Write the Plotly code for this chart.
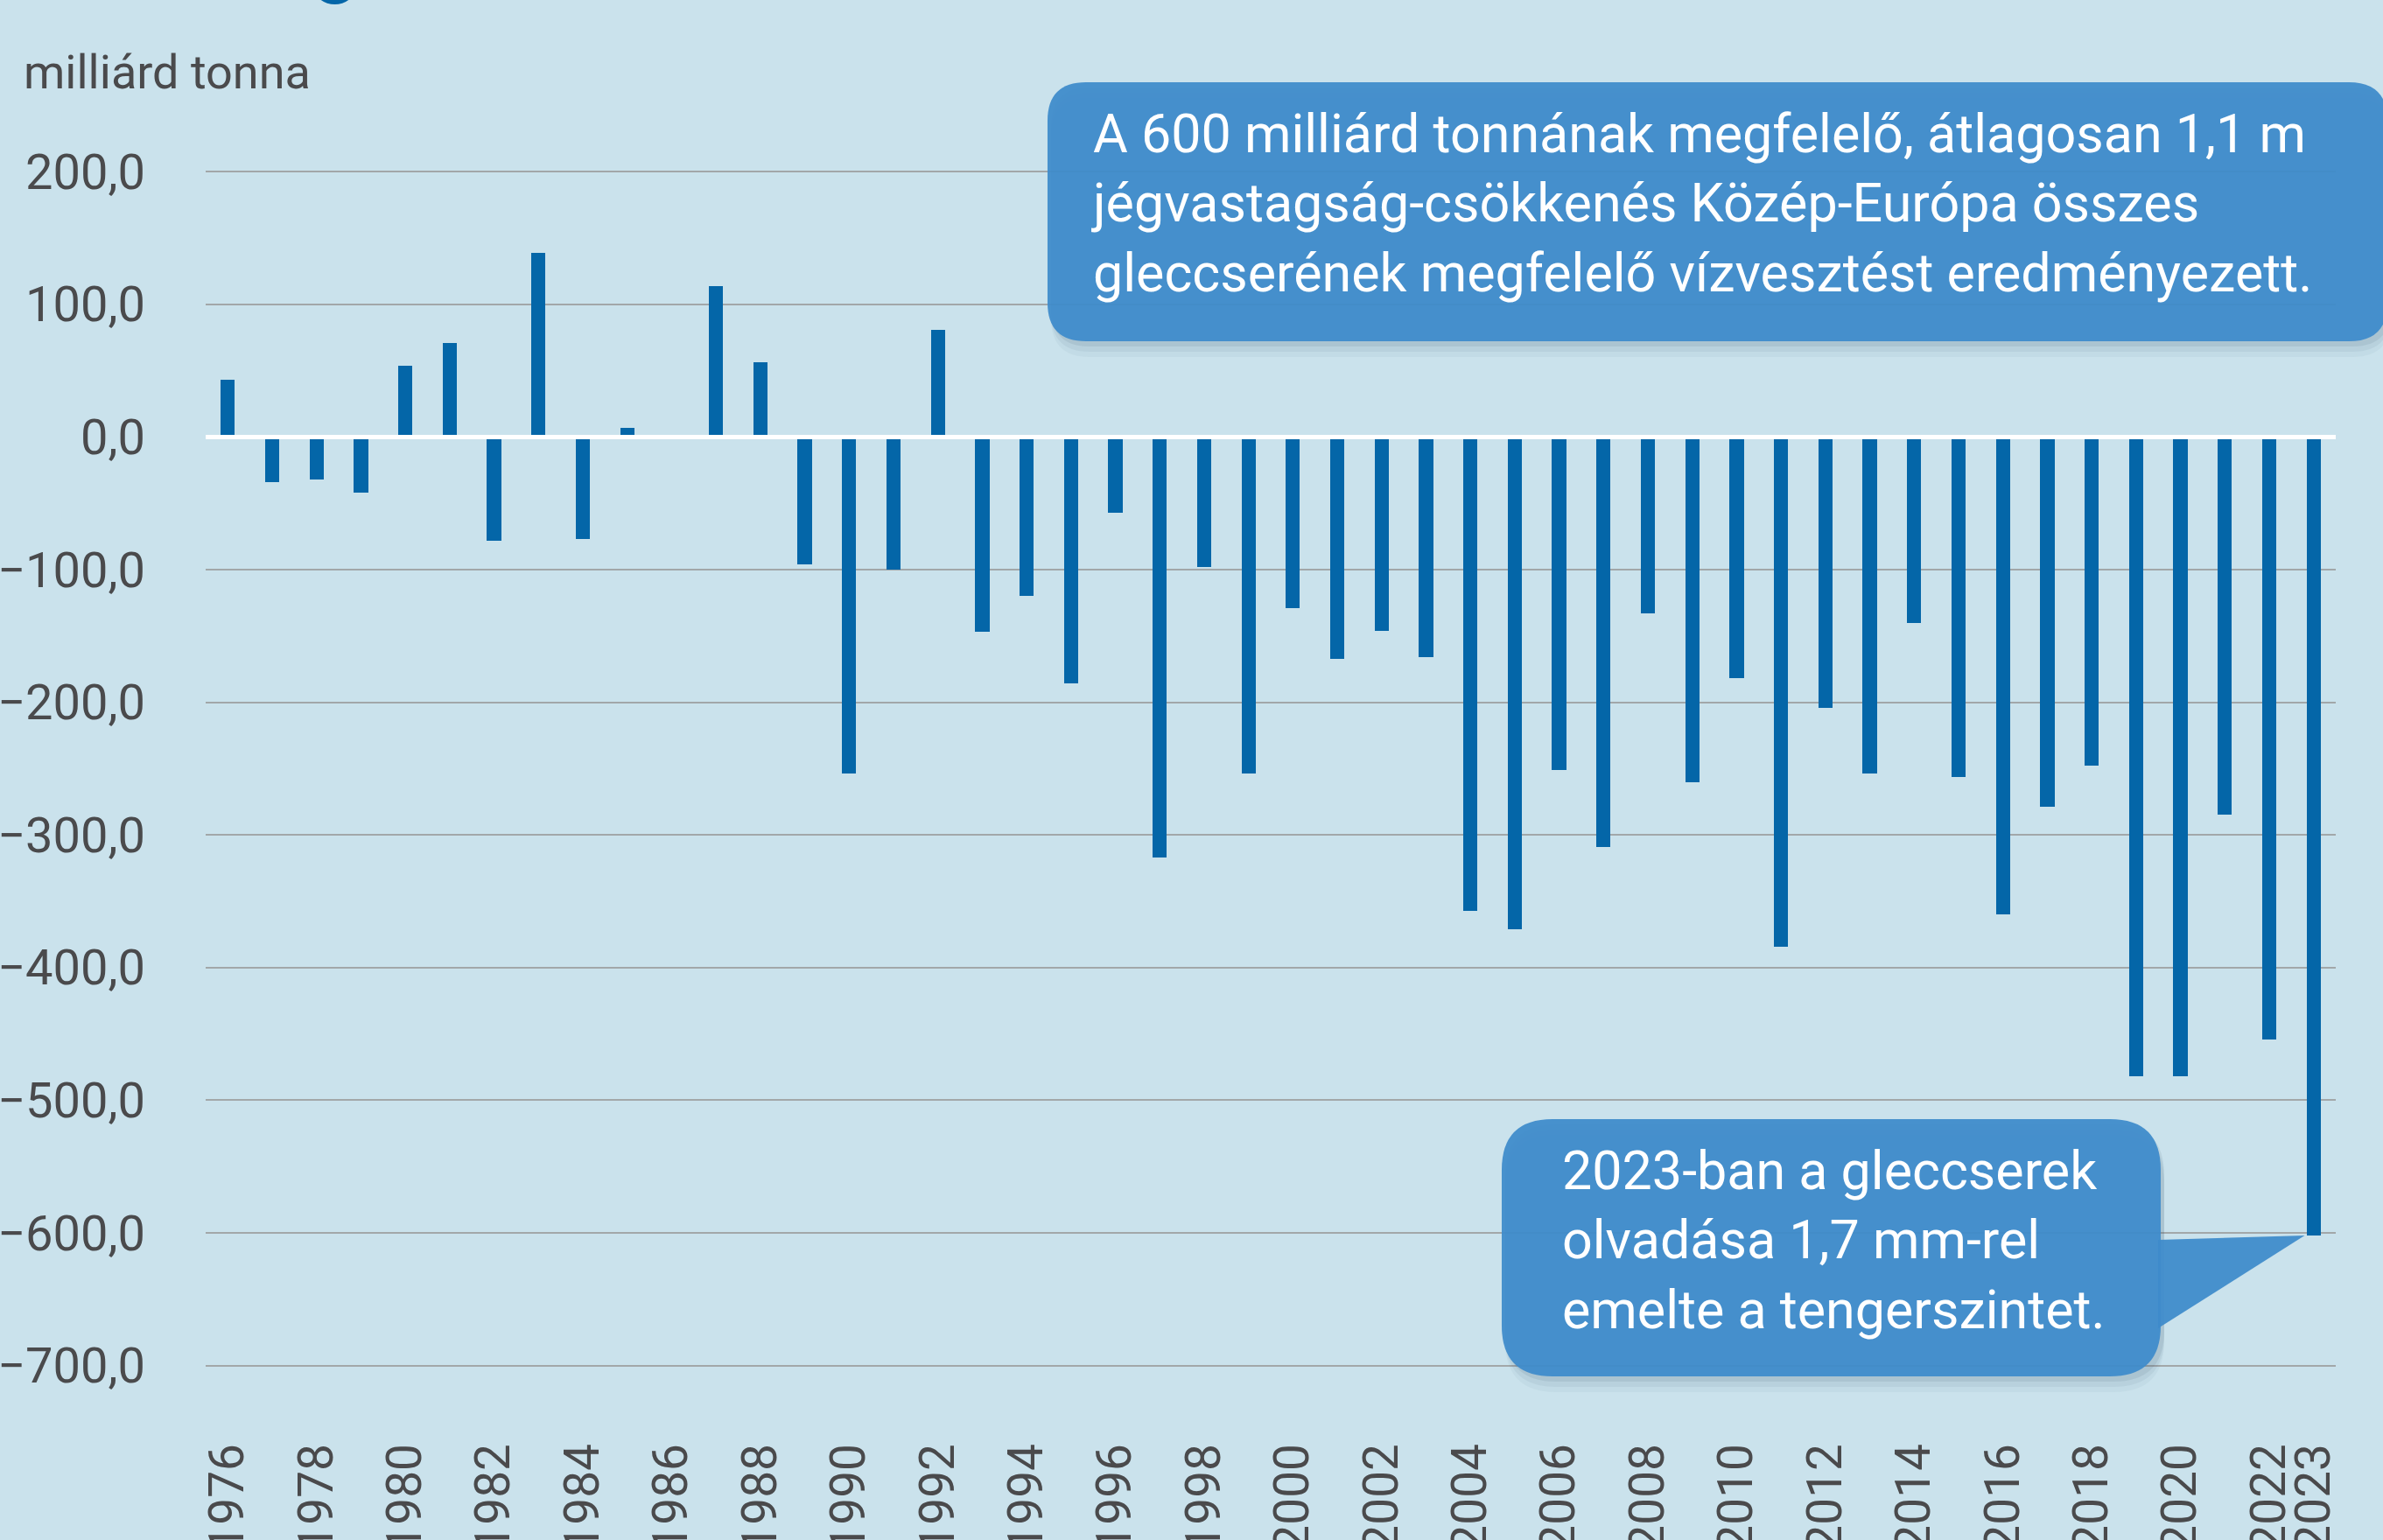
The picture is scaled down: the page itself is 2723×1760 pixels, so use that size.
import plotly.graph_objects as go

# ---------------- data ----------------
years = list(range(1976, 2024))
values = [43, -34, -32, -42, 54, 71, -78, 139, -77, 7, 1.5, 114, 56,
          -96, -254, -100, 81, -147, -120, -186, -57, -317, -98, -254, -129,
          -167, -146, -166, -357, -371, -251,
          -309, -133, -260, -182, -384, -204, -254, -140, -256, -360, -279,
          -248, -482, -482, -285, -454, -602]
tick_years = list(range(1976, 2023, 2)) + [2023]
tick_labels = [str(y) for y in tick_years]
y_ticks = list(range(-700, 201, 100))
axis_title = "milliárd tonna"
note_top = ("A 600 milliárd tonnának megfelelő, átlagosan 1,1 m<br>"
            "jégvastagság-csökkenés Közép-Európa összes<br>"
            "gleccserének megfelelő vízvesztést eredményezett.")
note_bottom = ("2023-ban a gleccserek<br>olvadása 1,7 mm-rel<br>"
               "emelte a tengerszintet.")

# ---------------- layout geometry ----------------
W, H = 2723, 1760
L, R, T, B = 235, 54, 181, 169
PW, PH = W - L - R, H - T - B
Y0, Y1 = -720, 210
X0, X1 = 1975.5, 2023.5

BG = "#cae2ec"
BAR = "#0466a8"
BOX = "#3f8bcb"
TXT = "#4a4a4c"
FONT = "Roboto"


def px(x):
    return (x - L) / PW


def py(y):
    return (H - B - y) / PH


def rrect_path(x0, y0, x1, y1, r):
    pts = [
        ("M", [(x0 + r, y0)]),
        ("L", [(x1 - r, y0)]),
        ("Q", [(x1, y0), (x1, y0 + r)]),
        ("L", [(x1, y1 - r)]),
        ("Q", [(x1, y1), (x1 - r, y1)]),
        ("L", [(x0 + r, y1)]),
        ("Q", [(x0, y1), (x0, y1 - r)]),
        ("L", [(x0, y0 + r)]),
        ("Q", [(x0, y0), (x0 + r, y0)]),
    ]
    s = ""
    for cmd, ps in pts:
        s += cmd + " " + " ".join(f"{px(a):.5f},{py(b):.5f}" for a, b in ps) + " "
    return s + "Z"


fig = go.Figure()
fig.add_trace(go.Bar(x=years, y=values, width=0.32,
                     marker=dict(color=BAR, line=dict(width=0)),
                     hoverinfo="x+y"))

shapes = []
# zero line (white, on top of bars)
shapes.append(dict(type="line", xref="paper", yref="y", x0=0, x1=1, y0=0, y1=0,
                   line=dict(color="white", width=5), layer="above"))

# cropped remnant of the title glyph at the very top
shapes.append(dict(type="circle", xref="paper", yref="paper",
                   x0=px(360), x1=px(405), y0=py(5), y1=py(-30),
                   fillcolor=BAR, line=dict(width=0), layer="above"))


def add_box(x0, y0, x1, y1, r):
    for dy, op in [(18, 0.05), (12, 0.07), (6, 0.10)]:
        shapes.append(dict(type="path", xref="paper", yref="paper",
                           path=rrect_path(x0 + 4, y0 + dy, x1 + 4, y1 + dy, r),
                           fillcolor="rgba(60,90,110,1)", opacity=op,
                           line=dict(width=0), layer="above"))
    shapes.append(dict(type="path", xref="paper", yref="paper",
                       path=rrect_path(x0, y0, x1, y1, r),
                       fillcolor=BOX, opacity=0.94,
                       line=dict(width=0), layer="above"))


add_box(1197, 94, 2728, 390, 44)
add_box(1716, 1279, 2469, 1573, 58)

# pointer of the lower callout, tip at the 2023 bar
tip_x = (2023 - 0.2 - X0) / (X1 - X0)
tip_y = (values[-1] - Y0) / (Y1 - Y0)
shapes.append(dict(type="path", xref="paper", yref="paper",
                   path=(f"M {px(2466):.5f},{py(1417):.5f} L {tip_x:.5f},{tip_y:.5f} "
                         f"L {px(2466):.5f},{py(1518):.5f} Z"),
                   fillcolor=BOX, opacity=0.94, line=dict(width=0), layer="above"))

annotations = [
    dict(text=axis_title, xref="paper", yref="paper", x=px(25), y=py(82),
         xanchor="left", yanchor="middle", showarrow=False,
         font=dict(family=FONT, size=54, color=TXT)),
    dict(text=note_top, xref="paper", yref="paper", x=px(1245), y=py(232),
         xanchor="left", yanchor="middle", align="left", showarrow=False,
         font=dict(family=FONT, size=61, color="white")),
    dict(text=note_bottom, xref="paper", yref="paper", x=px(1783), y=py(1417),
         xanchor="left", yanchor="middle", align="left", showarrow=False,
         font=dict(family=FONT, size=61, color="white")),
]

fig.update_layout(
    width=W, height=H,
    margin=dict(l=L, r=R, t=T, b=B, pad=0, autoexpand=False),
    paper_bgcolor=BG, plot_bgcolor=BG,
    separators=", ",
    showlegend=False,
    bargap=0,
    shapes=shapes,
    annotations=annotations,
    font=dict(family=FONT, color=TXT),
    xaxis=dict(range=[X0, X1], tickmode="array", tickvals=tick_years,
               ticktext=tick_labels, tickangle=-90, showgrid=False,
               zeroline=False, showline=False, ticks="", automargin=False,
               tickfont=dict(family=FONT, size=55, color=TXT),
               ticklabelstandoff=47, fixedrange=True),
    yaxis=dict(range=[Y0, Y1], tickmode="array", tickvals=y_ticks,
               tickformat=".1f", showgrid=True, gridcolor="#a2a7a9",
               gridwidth=2, zeroline=False, showline=False, ticks="",
               automargin=False,
               tickfont=dict(family=FONT, size=56, color=TXT),
               ticklabelstandoff=68, fixedrange=True),
)

fig.write_html("out.html",
               config={"displayModeBar": False},
               post_script="document.body.style.margin='0';"
                           "document.body.style.overflow='hidden';")
